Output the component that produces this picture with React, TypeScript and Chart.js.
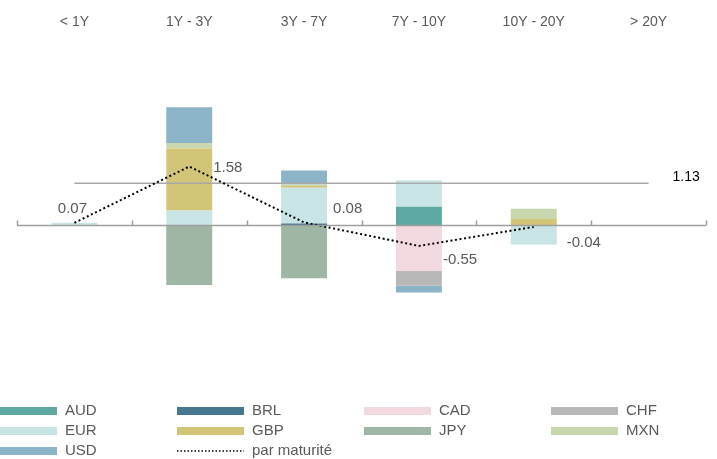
import { useEffect, useRef } from "react";
import { Chart, registerables } from "chart.js";

Chart.register(...registerables);

// ---------- data ----------
const categories = ["< 1Y", "1Y - 3Y", "3Y - 7Y", "7Y - 10Y", "10Y - 20Y", "> 20Y"];

const AUD = [null, null, null, 0.5, null, null];
const BRL = [null, null, 0.05, null, null, null];
const CAD = [null, null, null, -1.22, null, null];
const CHF = [null, null, null, -0.4, null, null];
const EUR = [0.07, 0.4, 0.96, 0.71, -0.51, null];
const GBP = [null, 1.66, 0.05, null, 0.17, null];
const JPY = [null, -1.6, -1.42, null, null, null];
const MXN = [null, 0.15, 0.04, null, 0.28, null];
const USD = [null, 0.96, 0.37, -0.18, null, null];

const maturity = [0.07, 1.58, 0.08, -0.55, -0.04, null];
const averageValue = 1.13;
const averageLine = categories.map(() => averageValue);

const currencyNames = ["AUD", "BRL", "CAD", "CHF", "EUR", "GBP", "JPY", "MXN", "USD"];
const currencyValues = [AUD, BRL, CAD, CHF, EUR, GBP, JPY, MXN, USD];
const lineLabel = "par maturité";

// ---------- styles ----------
const currencyColors = [
  "#5DA9A2", // AUD
  "#47768F", // BRL
  "#F2D9E0", // CAD
  "#B8B8B8", // CHF
  "#C9E4E4", // EUR
  "#D3C577", // GBP
  "#9EB6A3", // JPY
  "#C9D7AF", // MXN
  "#8CB4C8", // USD
];
// [dx, dy, align] for maturity value labels
const labelOffsets: [number, number, CanvasTextAlign][] = [
  [-2, -14, "center"],
  [24, 1, "left"],
  [29, -14, "left"],
  [24, 14, "left"],
  [33, 16, "left"],
];
const FONT = "'Liberation Sans', Arial, sans-serif";
const TEXT_GREY = "#595959";

const decorPlugin = {
  id: "decor",
  afterDatasetsDraw(chart: any) {
    const { ctx, chartArea, scales } = chart;
    const x = scales.x;
    const y = scales.y;
    const y0 = Math.round(y.getPixelForValue(0)) + 0.5;
    ctx.save();
    // zero axis with upward tick marks at category boundaries
    ctx.strokeStyle = "#9E9E9E";
    ctx.lineWidth = 1.5;
    ctx.beginPath();
    ctx.moveTo(chartArea.left, y0);
    ctx.lineTo(chartArea.right, y0);
    for (let i = 0; i <= categories.length; i++) {
      const px = Math.round(x.getPixelForValue(i - 0.5)) + 0.5;
      ctx.moveTo(px, y0);
      ctx.lineTo(px, y0 - 5);
    }
    ctx.stroke();

    // maturity value labels
    ctx.font = `15px ${FONT}`;
    ctx.fillStyle = TEXT_GREY;
    ctx.textBaseline = "middle";
    maturity.forEach((v, i) => {
      if (v === null) return;
      const off = labelOffsets[i];
      ctx.textAlign = off[2];
      ctx.fillText(v.toFixed(2), x.getPixelForValue(i) + off[0], y.getPixelForValue(v) + off[1]);
    });

    // average label
    ctx.font = `14px ${FONT}`;
    ctx.fillStyle = "#000000";
    ctx.textAlign = "left";
    ctx.fillText(
      averageValue.toFixed(2),
      x.getPixelForValue(categories.length - 1) + 24,
      y.getPixelForValue(averageValue) - 6
    );
    ctx.restore();
  },
  afterDraw(chart: any) {
    const { ctx } = chart;
    ctx.save();
    ctx.font = `15px ${FONT}`;
    ctx.fillStyle = TEXT_GREY;
    ctx.textBaseline = "middle";
    ctx.textAlign = "left";
    const items = currencyNames.map((n, i) => ({ name: n, color: currencyColors[i], dotted: false }));
    items.push({ name: lineLabel, color: "#000000", dotted: true });
    items.forEach((it, i) => {
      const col = i % 4;
      const row = Math.floor(i / 4);
      const bx = -10 + col * 187;
      const cy = 411 + row * 20;
      if (it.dotted) {
        ctx.strokeStyle = "#000000";
        ctx.lineWidth = 1.5;
        ctx.setLineDash([1.5, 2]);
        ctx.beginPath();
        ctx.moveTo(bx, cy);
        ctx.lineTo(bx + 67, cy);
        ctx.stroke();
        ctx.setLineDash([]);
      } else {
        ctx.fillStyle = it.color;
        ctx.fillRect(bx, cy - 4, 67, 8);
      }
      ctx.fillStyle = TEXT_GREY;
      ctx.fillText(it.name, bx + 75, cy);
    });
    ctx.restore();
  },
};

export default function App() {
  const canvasRef = useRef<HTMLCanvasElement | null>(null);

  useEffect(() => {
    if (!canvasRef.current) return;
    const barSets = currencyNames.map((name, i) => ({
      type: "bar" as const,
      label: name,
      data: currencyValues[i],
      backgroundColor: currencyColors[i],
      borderWidth: 0,
      stack: "bars",
      categoryPercentage: 1,
      barPercentage: 0.4,
      order: 0,
    }));
    const chart = new Chart(canvasRef.current, {
      type: "bar",
      data: {
        labels: categories,
        datasets: [
          ...barSets,
          {
            type: "line" as const,
            label: "moyenne",
            data: averageLine,
            borderColor: "#A8A8A8",
            borderWidth: 1.5,
            pointRadius: 0,
            fill: false,
            stack: "avg",
            order: -1,
          } as any,
          {
            type: "line" as const,
            label: lineLabel,
            data: maturity,
            borderColor: "#000000",
            borderWidth: 2,
            borderDash: [2, 2.6],
            pointRadius: 0,
            tension: 0,
            fill: false,
            stack: "mat",
            order: -2,
          } as any,
        ],
      },
      options: {
        animation: false,
        responsive: true,
        maintainAspectRatio: false,
        layout: { padding: { top: 10.6, bottom: 65.8, left: 17, right: 11 } },
        plugins: {
          legend: { display: false },
          tooltip: { enabled: false },
        },
        scales: {
          x: {
            type: "category",
            position: "top",
            stacked: true,
            offset: true,
            grid: { display: false, drawTicks: false },
            border: { display: false },
            ticks: { color: TEXT_GREY, font: { family: FONT, size: 14 }, padding: 3, maxRotation: 0 },
          },
          y: {
            display: false,
            stacked: true,
            min: -4.5,
            max: 5.15,
          },
        },
      },
      plugins: [decorPlugin],
    });
    return () => chart.destroy();
  }, []);

  return (
    <div style={{ position: "fixed", left: 0, top: 0, width: 717, height: 459, background: "#ffffff" }}>
      <canvas ref={canvasRef} />
    </div>
  );
}
